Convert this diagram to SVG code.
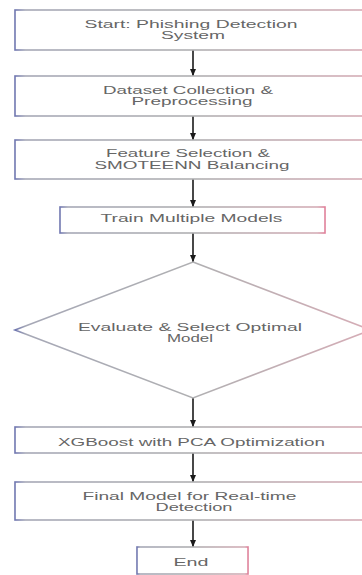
<svg xmlns="http://www.w3.org/2000/svg" width="362" height="575" viewBox="0 0 362 575">
<defs>
<linearGradient id="edge" x1="0" y1="0" x2="1" y2="0">
<stop offset="0" stop-color="#6f76b0"/>
<stop offset="0.03" stop-color="#a6a8b6"/>
<stop offset="0.5" stop-color="#b0b0b2"/>
<stop offset="0.97" stop-color="#d4adb6"/>
<stop offset="1" stop-color="#e07f99"/>
</linearGradient>
<marker id="ah" markerWidth="8" markerHeight="6" refX="7" refY="3" orient="auto" markerUnits="userSpaceOnUse">
<path d="M0,0 L7,3 L0,6 Z" fill="#1a1a1a"/>
</marker>
<style>
.box{fill:#ffffff;stroke:url(#edge);stroke-width:1.6}
.t{font-family:"Liberation Sans",Arial,sans-serif;font-size:10.5px;fill:#666666;text-anchor:middle}
.c{stroke:#1a1a1a;stroke-width:1.6;fill:none;marker-end:url(#ah)}
</style>
</defs>
<rect width="362" height="575" fill="#ffffff"/>
<g id="connectors">
<line class="c" x1="193" y1="50" x2="193" y2="76"/>
<line class="c" x1="193" y1="116" x2="193" y2="140"/>
<line class="c" x1="193" y1="179" x2="193" y2="207"/>
<line class="c" x1="193" y1="233" x2="193" y2="262"/>
<line class="c" x1="193" y1="398" x2="193" y2="427"/>
<line class="c" x1="193" y1="453" x2="193" y2="482"/>
<line class="c" x1="193" y1="520" x2="193" y2="547"/>
</g>
<g id="start">
<rect class="box" x="15" y="10" width="356" height="40"/>
<text class="t" x="191" y="27.5" textLength="213" lengthAdjust="spacingAndGlyphs">Start: Phishing Detection</text>
<text class="t" x="193" y="38.5" textLength="64" lengthAdjust="spacingAndGlyphs">System</text>
</g>
<g id="dataset">
<rect class="box" x="15" y="76" width="356" height="40"/>
<text class="t" x="188" y="94" textLength="170" lengthAdjust="spacingAndGlyphs">Dataset Collection &amp;</text>
<text class="t" x="192" y="105" textLength="121" lengthAdjust="spacingAndGlyphs">Preprocessing</text>
</g>
<g id="feature">
<rect class="box" x="15" y="140" width="356" height="39"/>
<text class="t" x="188" y="156.5" textLength="164" lengthAdjust="spacingAndGlyphs">Feature Selection &amp;</text>
<text class="t" x="192" y="168.5" textLength="195" lengthAdjust="spacingAndGlyphs">SMOTEENN Balancing</text>
</g>
<g id="train">
<rect class="box" x="60" y="207" width="265" height="26"/>
<text class="t" x="191.5" y="221.5" textLength="182" lengthAdjust="spacingAndGlyphs">Train Multiple Models</text>
</g>
<g id="evaluate">
<polygon class="box" points="193,262 371,330 193,398 15,330"/>
<text class="t" x="190" y="330.5" textLength="224" lengthAdjust="spacingAndGlyphs">Evaluate &amp; Select Optimal</text>
<text class="t" x="190" y="341.5" textLength="46" lengthAdjust="spacingAndGlyphs">Model</text>
</g>
<g id="xgboost">
<rect class="box" x="15" y="427" width="356" height="26"/>
<text class="t" x="191.5" y="446" textLength="267" lengthAdjust="spacingAndGlyphs">XGBoost with PCA Optimization</text>
</g>
<g id="final">
<rect class="box" x="15" y="482" width="356" height="38"/>
<text class="t" x="189.5" y="499.5" textLength="214" lengthAdjust="spacingAndGlyphs">Final Model for Real-time</text>
<text class="t" x="194" y="510.5" textLength="77" lengthAdjust="spacingAndGlyphs">Detection</text>
</g>
<g id="end">
<rect class="box" x="137" y="547" width="111" height="27"/>
<text class="t" x="191" y="565.5" textLength="35" lengthAdjust="spacingAndGlyphs">End</text>
</g>
</svg>
